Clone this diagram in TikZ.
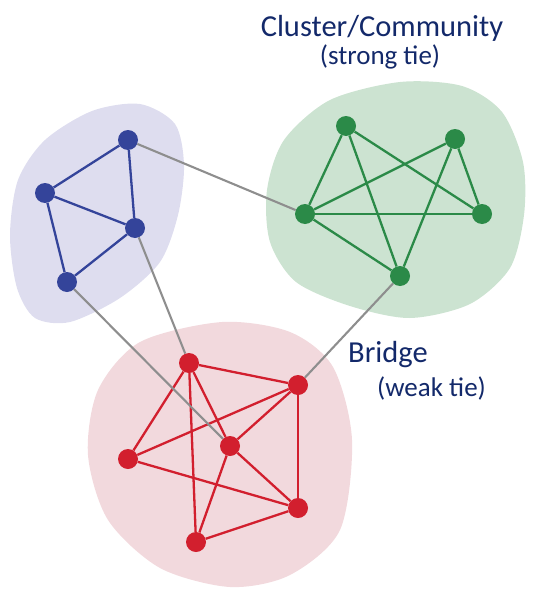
\documentclass[tikz,border=0pt]{standalone}
\usepackage{fontspec}
\setmainfont{Carlito}
\usepackage{tikz}

\definecolor{bluedark}{HTML}{34449A}
\definecolor{bluesoft}{HTML}{DEDDEF}
\definecolor{greendark}{HTML}{2B8A48}
\definecolor{greensoft}{HTML}{CCE3D1}
\definecolor{reddark}{HTML}{D21F2E}
\definecolor{redsoft}{HTML}{F2D9DD}
\definecolor{bridgegray}{HTML}{8E8E8E}
\definecolor{navy}{HTML}{13296A}

\begin{document}
\begin{tikzpicture}[x=1pt, y=-1pt]
% --- Global Styles ---
\tikzstyle{dot} = [circle, inner sep=0pt, minimum size=20pt]
\tikzstyle{bluedot} = [dot, fill=bluedark]
\tikzstyle{greendot} = [dot, fill=greendark]
\tikzstyle{reddot} = [dot, fill=reddark]
\tikzstyle{blueedge} = [draw=bluedark, line width=2.3pt]
\tikzstyle{greenedge} = [draw=greendark, line width=2.3pt]
\tikzstyle{rededge} = [draw=reddark, line width=2.3pt]
\tikzstyle{bridge} = [draw=bridgegray, line width=2.1pt]
\tikzstyle{bigtext} = [text=navy, inner sep=0pt, font=\fontsize{30.5}{36}\selectfont]
\tikzstyle{smalltext} = [text=navy, inner sep=0pt, font=\fontsize{27}{32}\selectfont]

\useasboundingbox (0,0) rectangle (551,602);

% ==========================================
% Community blobs
% ==========================================
\fill[bluesoft] plot[smooth cycle] coordinates {(140,104) (175,124) (184,165) (178,215) (160,262) (120,298) (70,322) (35,318) (17,288) (10,235) (18,180) (45,140) (92,111)};
\fill[greensoft] plot[smooth cycle] coordinates {(400,82) (462,86) (502,112) (523,162) (524,215) (510,268) (470,304) (410,318) (350,306) (296,282) (270,242) (267,190) (284,140) (330,100)};
\fill[redsoft] plot[smooth cycle] coordinates {(222,322) (290,332) (333,367) (352,440) (340,530) (290,575) (230,587) (160,568) (108,520) (88,455) (98,390) (140,342)};

% ==========================================
% Nodes
% ==========================================
% blue cluster
\node[bluedot] (b1) at (128,140) {};
\node[bluedot] (b2) at (45,193) {};
\node[bluedot] (b3) at (135,228) {};
\node[bluedot] (b4) at (67,282) {};

% green cluster
\node[greendot] (g1) at (346,126) {};
\node[greendot] (g2) at (455,139) {};
\node[greendot] (g3) at (305,214) {};
\node[greendot] (g4) at (482,214) {};
\node[greendot] (g5) at (400,276) {};

% red cluster
\node[reddot] (r1) at (189,363) {};
\node[reddot] (r2) at (298,385) {};
\node[reddot] (r3) at (128,459) {};
\node[reddot] (r4) at (230,446) {};
\node[reddot] (r5) at (298,508) {};
\node[reddot] (r6) at (196,542) {};

% ==========================================
% Strong ties
% ==========================================
\foreach \a/\b in {b1/b2, b1/b3, b2/b3, b2/b4, b3/b4}
  \draw[blueedge] (\a) -- (\b);
\foreach \a/\b in {g1/g3, g1/g4, g1/g5, g2/g3, g2/g4, g2/g5, g3/g4, g3/g5}
  \draw[greenedge] (\a) -- (\b);
\foreach \a/\b in {r1/r2, r1/r3, r1/r4, r1/r6, r2/r3, r2/r4, r2/r5, r3/r5, r4/r5, r4/r6, r6/r5}
  \draw[rededge] (\a) -- (\b);

% ==========================================
% Bridges (weak ties)
% ==========================================
\draw[bridge] (b1) -- (g3);
\draw[bridge] (b3) -- (r1);
\draw[bridge] (b4) -- (r4);
\draw[bridge] (g5) -- (r2);

% ==========================================
% Labels
% ==========================================
\node[bigtext, anchor=base] (cluster) at (382,37) {Cluster/Community};
\node[smalltext, anchor=base] (strong) at (380,64) {(strong tie)};
\node[bigtext, anchor=base west] (bridgelabel) at (348,362) {Bridge};
\node[smalltext, anchor=base west] (weak) at (377,396) {(weak tie)};

\end{tikzpicture}
\end{document}
